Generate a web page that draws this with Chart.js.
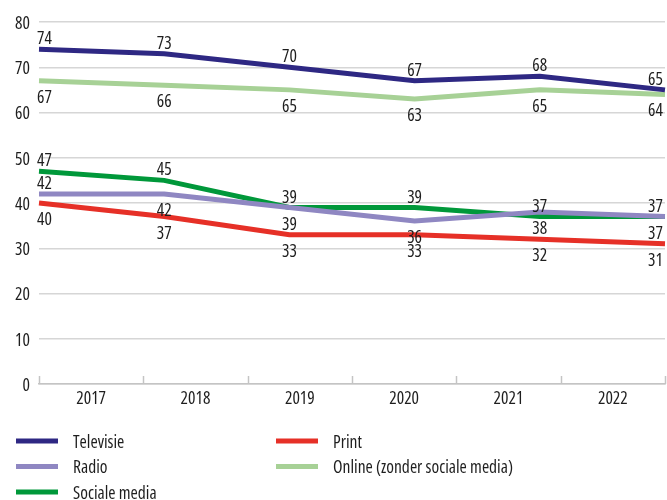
<!DOCTYPE html>
<html>
<head>
<meta charset="utf-8">
<script src="https://cdn.jsdelivr.net/npm/chart.js@4/dist/chart.umd.min.js"></script>
<style>
  html, body { margin: 0; padding: 0; background: #fff; }
  #wrap { width: 667px; height: 500px; position: relative; }
</style>
</head>
<body>
<div id="wrap"><canvas id="myChart"></canvas></div>
<script>
var years = ["2017", "2018", "2019", "2020", "2021", "2022"];
var yTicks = [0, 10, 20, 30, 40, 50, 60, 70, 80];

var televisie = [74, 73, 70, 67, 68, 65];
var radio = [42, 42, 39, 36, 38, 37];
var socialeMedia = [47, 45, 39, 39, 37, 37];
var print = [40, 37, 33, 33, 32, 31];
var online = [67, 66, 65, 63, 65, 64];

// Open Sans has a width axis, "condensed" gets close to the narrow original face
var FAMILY = "'Open Sans', sans-serif";
var WEIGHT = "400 condensed";
var SIZE = 17.5;
var FONTSTR = WEIGHT + " " + SIZE + "px " + FAMILY;
var TEXT = "#1e1e1e";

function makeSet(label, data, color, labelPos) {
  return {
    label: label,
    data: data,
    borderColor: color,
    backgroundColor: color,
    borderWidth: 5,
    pointRadius: 0,
    tension: 0,
    fill: false,
    xAxisID: "x2",
    yAxisID: "y",
    labelPos: labelPos
  };
}

// data labels drawn next to each point, kept inside the canvas
var valueLabels = {
  id: "valueLabels",
  afterDatasetsDraw: function (chart) {
    var ctx = chart.ctx;
    ctx.save();
    ctx.font = FONTSTR;
    ctx.fillStyle = TEXT;
    ctx.textAlign = "center";
    ctx.textBaseline = "middle";
    chart.data.datasets.forEach(function (ds, i) {
      var meta = chart.getDatasetMeta(i);
      meta.data.forEach(function (pt, j) {
        var txt = String(ds.data[j]);
        var w = ctx.measureText(txt).width;
        var x = pt.x;
        x = Math.max(x, chart.chartArea.left - 2 + w / 2);
        x = Math.min(x, chart.width - 4 - w / 2);
        var y = ds.labelPos[j] === "above" ? pt.y - 10 : pt.y + 17;
        ctx.fillText(txt, x, y);
      });
    });
    ctx.restore();
  }
};

// small upward ticks on the x axis at the category boundaries
var axisTicks = {
  id: "axisTicks",
  beforeDatasetsDraw: function (chart) {
    var ctx = chart.ctx;
    var a = chart.chartArea;
    var n = years.length;
    var step = (a.right - a.left) / n;
    ctx.save();
    ctx.strokeStyle = "#c4c4c4";
    ctx.lineWidth = 1.5;
    for (var i = 0; i <= n; i++) {
      var x = Math.round(a.left + i * step) + 0.5;
      ctx.beginPath();
      ctx.moveTo(x, a.bottom);
      ctx.lineTo(x, a.bottom - 8);
      ctx.stroke();
    }
    ctx.restore();
  }
};

// two column legend under the chart
var legendBlock = {
  id: "legendBlock",
  afterDraw: function (chart) {
    var ctx = chart.ctx;
    ctx.save();
    ctx.font = FONTSTR;
    ctx.textBaseline = "middle";
    ctx.textAlign = "left";
    chart.data.datasets.forEach(function (ds, i) {
      var col = i < 3 ? 0 : 1;
      var row = i < 3 ? i : i - 3;
      var x0 = col === 0 ? 16 : 276;
      var y = 441 + row * 25.5;
      ctx.fillStyle = ds.borderColor;
      ctx.fillRect(x0, y - 2.5, 42, 5);
      ctx.fillStyle = TEXT;
      ctx.fillText(ds.label, x0 + 57, y + 2);
    });
    ctx.restore();
  }
};

var ctx = document.getElementById("myChart").getContext("2d");
var myChart = new Chart(ctx, {
  type: "line",
  data: {
    labels: years,
    datasets: [
      makeSet("Televisie", televisie, "#2e2883", ["above", "above", "above", "above", "above", "above"]),
      makeSet("Radio", radio, "#8f87c2", ["above", "below", "below", "below", "below", "below"]),
      makeSet("Sociale media", socialeMedia, "#00983a", ["above", "above", "above", "above", "above", "above"]),
      makeSet("Print", print, "#e63027", ["below", "below", "below", "below", "below", "below"]),
      makeSet("Online (zonder sociale media)", online, "#a7d196", ["below", "below", "below", "below", "below", "below"])
    ]
  },
  options: {
    responsive: true,
    maintainAspectRatio: false,
    animation: false,
    layout: { padding: { top: 22, right: 2, left: 0, bottom: 0 } },
    plugins: {
      legend: { display: false },
      tooltip: { enabled: false }
    },
    scales: {
      x: {
        type: "category",
        position: "bottom",
        offset: true,
        grid: { drawOnChartArea: false, drawTicks: false },
        border: { display: true, color: "#c4c4c4", width: 1.5 },
        ticks: { color: TEXT, font: { family: FAMILY, weight: WEIGHT, size: SIZE }, padding: 5, maxRotation: 0 },
        afterFit: function (scale) { scale.height = 116; }
      },
      x2: {
        type: "category",
        position: "bottom",
        offset: false,
        display: false
      },
      y: {
        min: yTicks[0],
        max: yTicks[yTicks.length - 1],
        grid: { color: "#d6d6d6", lineWidth: 1.5, drawTicks: false },
        border: { display: false },
        ticks: {
          stepSize: 10,
          padding: 9,
          labelOffset: 2,
          color: TEXT,
          font: { family: FAMILY, weight: WEIGHT, size: SIZE }
        },
        afterFit: function (scale) { scale.width = 39; }
      }
    }
  },
  plugins: [valueLabels, axisTicks, legendBlock]
});
</script>
</body>
</html>
